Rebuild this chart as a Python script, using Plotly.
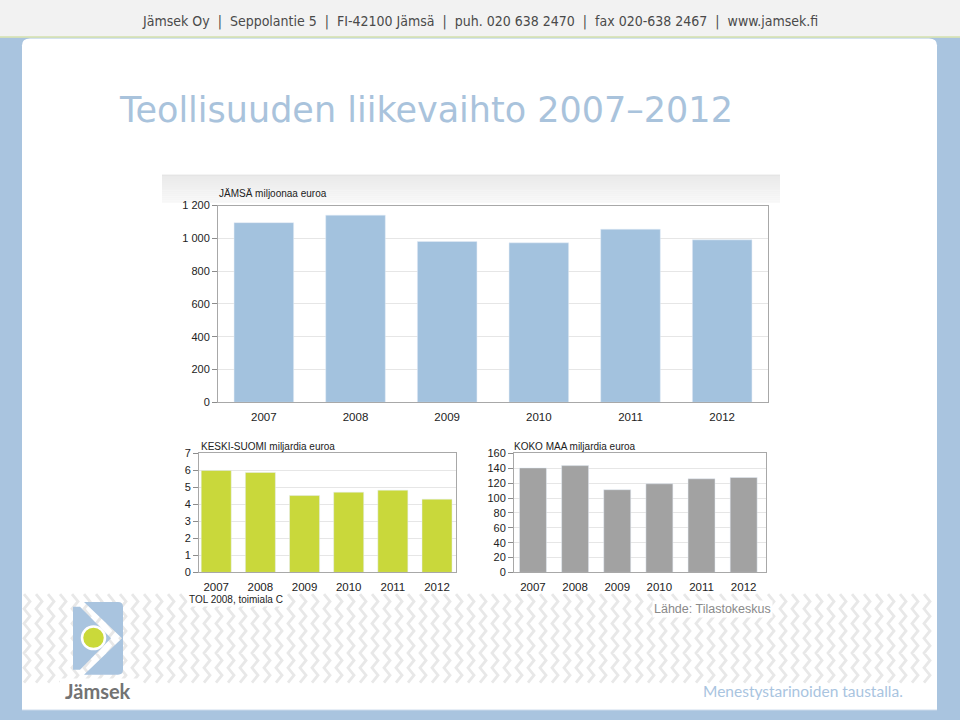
import plotly.graph_objects as go

# ---------------- data ----------------
years = ["2007", "2008", "2009", "2010", "2011", "2012"]
jamsa_meur = [1096, 1142, 981, 973, 1056, 991]          # miljoonaa euroa
keskisuomi_mrd = [6.0, 5.88, 4.52, 4.72, 4.84, 4.31]    # miljardia euroa
kokomaa_mrd = [140.5, 143.6, 111.2, 119.2, 125.9, 127.6]  # miljardia euroa

jamsa_ticks = [0, 200, 400, 600, 800, 1000, 1200]
jamsa_ticktext = ["0", "200", "400", "600", "800", "1 000", "1 200"]
ks_ticks = [0, 1, 2, 3, 4, 5, 6, 7]
km_ticks = [0, 20, 40, 60, 80, 100, 120, 140, 160]

W, H = 960, 720


def px(x):
    return x / W


def py(y):
    return 1 - y / H


BLUE_SIDE = "#a9c4df"
TITLE_BLUE = "#a9c3dc"
BAR_BLUE = "#a3c2de"
BAR_GREEN = "#c9d83b"
BAR_GREY = "#a2a2a2"
FONT = "Liberation Sans, Arial, sans-serif"

fig = go.Figure()

fig.add_trace(go.Bar(x=years, y=jamsa_meur, marker_color=BAR_BLUE,
                     xaxis="x", yaxis="y", hoverinfo="x+y"))
fig.add_trace(go.Bar(x=years, y=keskisuomi_mrd, marker_color=BAR_GREEN, width=0.68,
                     xaxis="x2", yaxis="y2", hoverinfo="x+y"))
fig.add_trace(go.Bar(x=years, y=kokomaa_mrd, marker_color=BAR_GREY, width=0.64,
                     xaxis="x3", yaxis="y3", hoverinfo="x+y"))

axis_common = dict(showline=True, linecolor="#a8a8a8", linewidth=1, mirror=True,
                   ticks="outside", tickcolor="#8c8c8c", ticklen=5,
                   tickfont=dict(family=FONT, size=11, color="#222"),
                   zeroline=False, fixedrange=True)
xaxis_common = dict(showline=True, linecolor="#a8a8a8", linewidth=1, mirror=True,
                    ticks="outside", tickcolor="rgba(0,0,0,0)", ticklen=4,
                    tickfont=dict(family=FONT, size=11.5, color="#222"),
                    zeroline=False, fixedrange=True, type="category")

shapes = []
# header band
shapes.append(dict(type="rect", xref="paper", yref="paper", layer="below",
                   x0=-0.02, x1=1.02, y0=py(31), y1=1.05, fillcolor="#f2f2f2", line=dict(width=0)))
shapes.append(dict(type="line", xref="paper", yref="paper", layer="below",
                   x0=-0.02, x1=1.02, y0=py(31.5), y1=py(31.5), line=dict(color="#dfe8b0", width=1.5)))
# white main panel
shapes.append(dict(type="path", xref="paper", yref="paper", layer="below",
                   path=f"M {px(22)},{py(716)} L {px(22)},{py(40)} Q {px(22)},{py(33)} {px(30)},{py(33)} "
                        f"L {px(929)},{py(33)} Q {px(937)},{py(33)} {px(937)},{py(40)} L {px(937)},{py(716)} Z",
                   fillcolor="white", line=dict(width=0)))
# bottom strip line
shapes.append(dict(type="line", xref="paper", yref="paper", layer="below",
                   x0=px(22), x1=px(937), y0=py(716), y1=py(716), line=dict(color="#c9d9ea", width=1)))
# light grey gradient band above main chart
for i in range(14):
    g = 234 + i
    shapes.append(dict(type="rect", xref="paper", yref="paper", layer="below",
                       x0=px(162), x1=px(780), y0=py(172 + 2 * i + 2), y1=py(172 + 2 * i),
                       fillcolor=f"rgb({g},{g},{g})", line=dict(width=0)))
shapes.append(dict(type="line", xref="paper", yref="paper", layer="below",
                   x0=px(162), x1=px(780), y0=py(172), y1=py(172), line=dict(color="#e0e0e0", width=1)))
# plot backgrounds (white)
for (x0, x1, y0, y1) in [(218, 768, 203, 403), (199, 456, 455, 576), (514, 766, 455, 576)]:
    shapes.append(dict(type="rect", xref="paper", yref="paper", layer="below",
                       x0=px(x0), x1=px(x1), y0=py(y1), y1=py(y0), fillcolor="white", line=dict(width=0)))

# chevron pattern in the footer
parts = []
top, bot = 598, 692
for x0 in range(24, 934, 12):
    seg = [f"M {px(x0)},{py(top)}"]
    y = top
    while y + 15 <= bot:
        seg.append(f"L {px(x0 + 6)},{py(y + 7.5)}")
        seg.append(f"L {px(x0)},{py(y + 15)}")
        y += 15
    parts.append(" ".join(seg))
shapes.append(dict(type="path", xref="paper", yref="paper", layer="below",
                   path=" ".join(parts), line=dict(color="#e8e8e8", width=2.8)))
# white patch behind logo text
shapes.append(dict(type="rect", xref="paper", yref="paper", layer="below",
                   x0=px(60), x1=px(140), y0=py(712), y1=py(684), fillcolor="white", line=dict(width=0)))

# logo
shapes.append(dict(type="path", xref="paper", yref="paper", layer="above",
                   path=f"M {px(84)},{py(606)} L {px(118)},{py(606)} Q {px(123)},{py(606)} {px(123)},{py(611)} "
                        f"L {px(123)},{py(675)} Q {px(123)},{py(680)} {px(118)},{py(680)} L {px(84)},{py(680)} "
                        f"L {px(122)},{py(643)} Z",
                   fillcolor=BLUE_SIDE, line=dict(width=0)))
shapes.append(dict(type="path", xref="paper", yref="paper", layer="above",
                   path=f"M {px(73)},{py(611)} L {px(80)},{py(611)} L {px(111)},{py(643)} "
                        f"L {px(80)},{py(675)} L {px(73)},{py(675)} Z",
                   fillcolor=BLUE_SIDE, line=dict(width=0)))
shapes.append(dict(type="circle", xref="paper", yref="paper", layer="above",
                   x0=px(82), x1=px(105), y0=py(654), y1=py(631),
                   fillcolor="#cad93a", line=dict(color="white", width=2.5)))

annotations = [
    dict(text="Jämsek Oy  |  Seppolantie 5  |  FI-42100 Jämsä  |  puh. 020 638 2470  |  fax 020-638 2467  |  www.jamsek.fi",
         x=px(480), y=py(16), xref="paper", yref="paper", xanchor="center", yanchor="middle", showarrow=False,
         font=dict(family="Liberation Sans Narrow, DejaVu Sans Condensed, sans-serif", size=14, color="#4a4a4a")),
    dict(text="Teollisuuden liikevaihto 2007–2012", x=px(117), y=py(106), xref="paper", yref="paper",
         xanchor="left", yanchor="middle", showarrow=False,
         font=dict(family="DejaVu Sans, Verdana, sans-serif", size=35, color=TITLE_BLUE)),
    dict(text="JÄMSÄ miljoonaa euroa", x=px(217), y=py(191), xref="paper", yref="paper",
         xanchor="left", yanchor="middle", showarrow=False,
         font=dict(family=FONT, size=10, color="#222")),
    dict(text="KESKI-SUOMI miljardia euroa", x=px(199), y=py(448), xref="paper", yref="paper",
         xanchor="left", yanchor="middle", showarrow=False,
         font=dict(family=FONT, size=10, color="#222")),
    dict(text="KOKO MAA miljardia euroa", x=px(512), y=py(448), xref="paper", yref="paper",
         xanchor="left", yanchor="middle", showarrow=False,
         font=dict(family=FONT, size=10, color="#222")),
    dict(text="TOL 2008, toimiala C", x=px(187), y=py(604), xref="paper", yref="paper",
         xanchor="left", yanchor="middle", showarrow=False, bgcolor="white",
         font=dict(family=FONT, size=10, color="#222")),
    dict(text="Lähde: Tilastokeskus", x=px(652), y=py(613), xref="paper", yref="paper",
         xanchor="left", yanchor="middle", showarrow=False, bgcolor="white",
         font=dict(family=FONT, size=12.5, color="#8a8a8a")),
    dict(text="<b>Jämsek</b>", x=px(98), y=py(697), xref="paper", yref="paper",
         xanchor="center", yanchor="middle", showarrow=False,
         font=dict(family="Lato, Open Sans, sans-serif", size=20, color="#737373")),
    dict(text="Menestystarinoiden taustalla.", x=px(905), y=py(697), xref="paper", yref="paper",
         xanchor="right", yanchor="middle", showarrow=False,
         font=dict(family="Lato, Open Sans, sans-serif", size=15.5, color=BLUE_SIDE)),
]

fig.update_layout(
    width=W, height=H, margin=dict(l=0, r=0, t=0, b=0, pad=0),
    paper_bgcolor=BLUE_SIDE, plot_bgcolor="rgba(0,0,0,0)",
    showlegend=False, bargap=0.35,
    shapes=shapes, annotations=annotations,
    xaxis=dict(domain=[px(218), px(768)], anchor="y", **xaxis_common),
    yaxis=dict(domain=[py(403), py(203)], anchor="x", range=[0, 1200],
               tickvals=jamsa_ticks, ticktext=jamsa_ticktext,
               showgrid=True, gridcolor="#e6e6e6", **axis_common),
    xaxis2=dict(domain=[px(199), px(456)], anchor="y2", range=[-0.39, 5.43], **xaxis_common),
    yaxis2=dict(domain=[py(576), py(455)], anchor="x2", range=[0, 7],
                tickvals=ks_ticks, showgrid=True, gridcolor="#e6e6e6", **axis_common),
    xaxis3=dict(domain=[px(514), px(766)], anchor="y3", range=[-0.45, 5.53], **xaxis_common),
    yaxis3=dict(domain=[py(576), py(455)], anchor="x3", range=[0, 160],
                tickvals=km_ticks, showgrid=True, gridcolor="#e6e6e6", **axis_common),
)

fig.write_html("out.html")
